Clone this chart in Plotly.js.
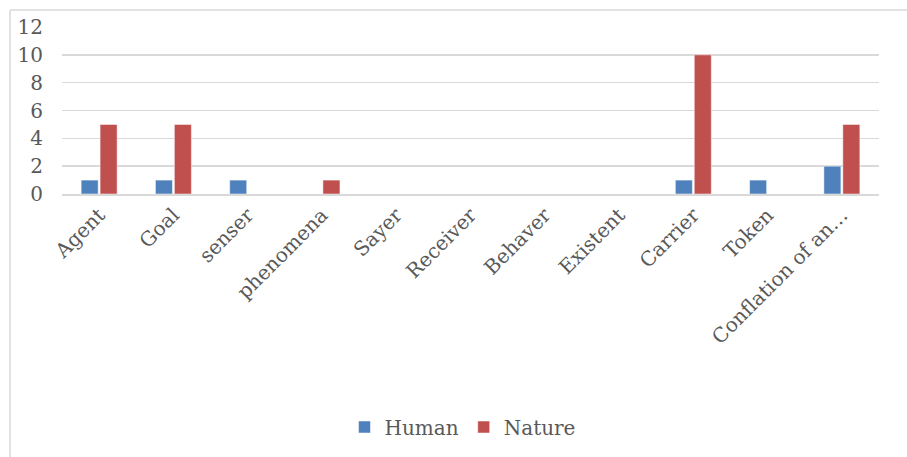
<!DOCTYPE html>
<html>
<head>
<meta charset="utf-8">
<script src="https://cdn.plot.ly/plotly-3.0.1.min.js"></script>
<style>html,body{margin:0;padding:0;background:#fff;} #chart{width:907px;height:457px;}</style>
</head>
<body>
<div id="chart"></div>
<script>
const categories = ["Agent","Goal","senser","phenomena","Sayer","Receiver","Behaver","Existent","Carrier","Token","Conflation of an…"];
const human = [1,1,1,0,0,0,0,0,1,1,2];
const nature = [5,5,0,1,0,0,0,0,10,0,5];
const yTicks = [0,2,4,6,8,10,12];

const font = {family: "DejaVu Serif, Liberation Serif, serif", size: 20, color: "#595959"};
const traces = [
  {type: "bar", name: "Human", x: categories, y: human, marker: {color: "#4F81BD", line: {color: "#ffffff", width: 0.5}}},
  {type: "bar", name: "Nature", x: categories, y: nature, marker: {color: "#C0504D", line: {color: "#ffffff", width: 0.5}}}
];
const L = 62, R = 879, T = 27, B = 195, W = 907, H = 457;
const px = v => (v - L) / (R - L);
const py = v => (B - v) / (B - T);
const layout = {
  width: W, height: H,
  margin: {l: L, r: W - R, t: T, b: H - B},
  paper_bgcolor: "#ffffff", plot_bgcolor: "#ffffff",
  font: font,
  barmode: "group", bargap: 0.49, bargroupgap: 0.1,
  showlegend: true,
  legend: {orientation: "h", x: 0.5 - 8 / (R - L), xanchor: "center", y: py(427), yanchor: "middle", font: font, itemwidth: 30},
  xaxis: {tickangle: -45, tickfont: font, showgrid: false, showline: true, linecolor: "#d9d9d9", linewidth: 1.5, ticks: "", automargin: false},
  yaxis: {range: [0, 12], tickvals: yTicks, ticktext: yTicks.map(String), tickfont: font, showgrid: true, gridcolor: "#d9d9d9", gridwidth: 1.5, zeroline: false, showline: false, ticks: "", ticklabelstandoff: 18, automargin: false},
  shapes: [
    {type: "line", xref: "paper", yref: "paper", x0: px(10), x1: px(912), y0: py(10), y1: py(10), line: {color: "#d9d9d9", width: 1.5}},
    {type: "line", xref: "paper", yref: "paper", x0: px(10), x1: px(10), y0: py(10), y1: py(462), line: {color: "#d9d9d9", width: 1.5}}
  ]
};
Plotly.newPlot("chart", traces, layout, {displayModeBar: false, staticPlot: true});
</script>
</body>
</html>
